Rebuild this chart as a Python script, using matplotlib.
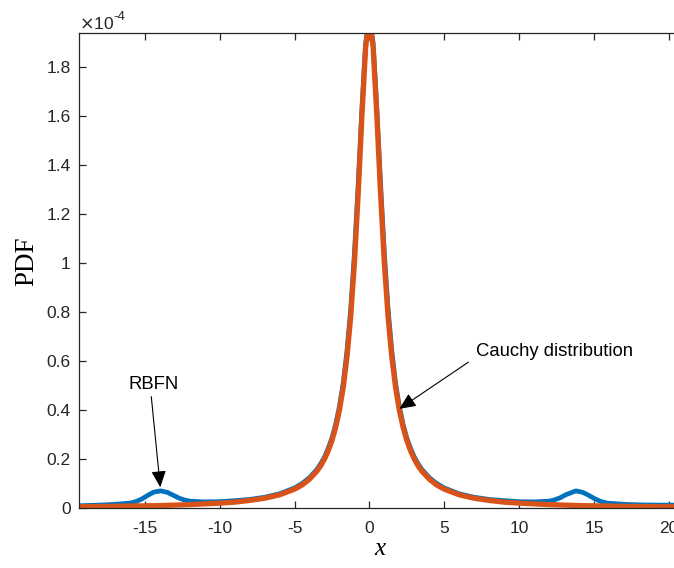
import numpy as np
import matplotlib
matplotlib.use('Agg')
import matplotlib.pyplot as plt
from matplotlib.ticker import FuncFormatter

plt.rcParams['font.family'] = ['Liberation Sans', 'DejaVu Sans']
plt.rcParams['axes.unicode_minus'] = False

# values, PDF in units of 1e-4
x_cauchy = [-20, -18, -16, -14, -12, -10, -9, -8, -7, -6, -5, -4.5, -4, -3.5, -3.25, -3, -2.75, -2.5, -2.25, -2,
            -1.75, -1.5, -1.25, -1, -0.75, -0.5, -0.25, 0,
            0.25, 0.5, 0.75, 1, 1.25, 1.5, 1.75, 2, 2.25, 2.5, 2.75, 3, 3.25, 3.5, 4, 4.5, 5, 6, 7, 8, 9,
            10, 12, 14, 16, 18, 20, 20.5]
pdf_cauchy = [0.005, 0.006, 0.008, 0.010, 0.014, 0.020, 0.024, 0.031, 0.040, 0.054, 0.077, 0.094, 0.118, 0.151, 0.173, 0.200, 0.234, 0.276, 0.330, 0.400,
              0.492, 0.615, 0.780, 1.000, 1.280, 1.600, 1.882, 2.000,
              1.882, 1.600, 1.280, 1.000, 0.780, 0.615, 0.492, 0.400, 0.330, 0.276, 0.234, 0.200, 0.173, 0.151, 0.118, 0.094, 0.077, 0.054, 0.040, 0.031, 0.024,
              0.020, 0.014, 0.010, 0.008, 0.006, 0.005, 0.005]

x_rbfn = [-20, -19, -18, -17, -16, -15.6, -15.2, -14.8, -14.4, -13.95, -13.5, -13.1, -12.7, -12.3, -12, -11, -10, -9, -8, -7, -6,
          -5, -4.5, -4, -3.5, -3.25, -3, -2.75, -2.5, -2.25, -2, -1.75, -1.5, -1.25, -1, -0.75, -0.5, -0.25, 0,
          0.25, 0.5, 0.75, 1, 1.25, 1.5, 1.75, 2, 2.25, 2.5, 2.75, 3, 3.25, 3.5, 4, 4.5, 5, 6, 7, 8, 9, 10, 11, 12,
          12.35, 12.75, 13.15, 13.8, 14.25, 14.65, 15.05, 15.45, 15.9, 17, 18, 19, 20, 20.5]
pdf_rbfn = [0.008, 0.010, 0.012, 0.015, 0.020, 0.026, 0.037, 0.052, 0.065, 0.070, 0.064, 0.052, 0.040, 0.032, 0.028, 0.025, 0.026, 0.030, 0.035, 0.044, 0.058,
            0.082, 0.100, 0.124, 0.158, 0.181, 0.208, 0.244, 0.286, 0.342, 0.415, 0.510, 0.640, 0.810, 1.040, 1.320, 1.630, 1.900, 2.000,
            1.900, 1.630, 1.320, 1.040, 0.810, 0.640, 0.510, 0.415, 0.342, 0.286, 0.244, 0.208, 0.181, 0.158, 0.124, 0.100, 0.082, 0.058, 0.044, 0.035, 0.030, 0.026, 0.025, 0.028,
            0.033, 0.042, 0.055, 0.070, 0.064, 0.052, 0.038, 0.027, 0.020, 0.015, 0.013, 0.012, 0.012, 0.012]

x_ticks = [-15, -10, -5, 0, 5, 10, 15, 20]
y_ticks = [0, 0.2, 0.4, 0.6, 0.8, 1.0, 1.2, 1.4, 1.6, 1.8]

fig = plt.figure(figsize=(6.74, 5.68), dpi=100)
ax = fig.add_axes([0.1172, 0.1056, 0.8828, 0.8363])

ax.plot(x_rbfn, pdf_rbfn, color='#0072BD', lw=3.4, solid_joinstyle='round')
ax.plot(x_cauchy, pdf_cauchy, color='#D95319', lw=3.8, solid_joinstyle='round')

ax.set_xlim(-19.4, 20.35)
ax.set_ylim(0, 1.94)
ax.set_xticks(x_ticks)
ax.set_yticks(y_ticks)
ax.yaxis.set_major_formatter(FuncFormatter(lambda v, p: '%g' % round(v, 2)))

for s in ['left', 'bottom', 'top']:
    ax.spines[s].set_color('#262626')
    ax.spines[s].set_linewidth(0.9)
ax.spines['right'].set_visible(False)
ax.tick_params(direction='in', length=5, width=0.9, colors='#262626',
               labelsize=12.5, top=True, right=False)
ax.tick_params(axis='x', pad=9)
ax.tick_params(axis='y', pad=6)

# x10^-4 multiplier in the MATLAB corner
ax.text(0.0, 1.003, r'$\times$10', transform=ax.transAxes, fontsize=12.5,
        color='#262626', ha='left', va='bottom')
ax.text(0.057, 1.022, '-4', transform=ax.transAxes, fontsize=9.5,
        color='#262626', ha='left', va='bottom')

ax.set_xlabel('x', fontsize=18, fontstyle='italic', family='Liberation Serif')
ax.set_ylabel('PDF', fontsize=19.5, family='Liberation Serif')
ax.xaxis.set_label_coords(0.506, -0.064)
ax.yaxis.set_label_coords(-0.067, 0.52)

arrow = dict(arrowstyle='-|>,head_length=1.0,head_width=0.45', color='black',
             lw=0.8, shrinkA=0, shrinkB=0)
ax.annotate('', xy=(-13.97, 0.085), xytext=(-14.57, 0.455), arrowprops=arrow)
ax.text(-14.4, 0.506, 'RBFN', fontsize=13.3, ha='center', va='center')
ax.annotate('', xy=(2.0, 0.405), xytext=(6.62, 0.596), arrowprops=arrow)
ax.text(7.1, 0.64, 'Cauchy distribution', fontsize=13.3, ha='left', va='center')

fig.savefig('out.png', dpi=100)
